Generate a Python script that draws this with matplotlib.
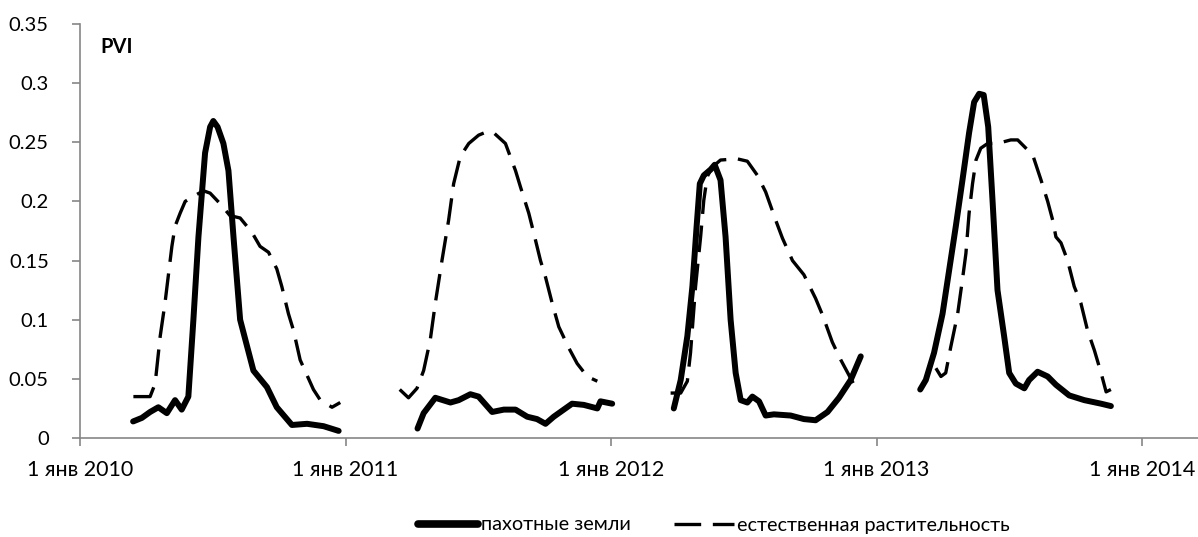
import matplotlib
matplotlib.use('Agg')
import matplotlib.pyplot as plt
import numpy as np

plt.rcParams['font.family'] = ['Lato', 'Open Sans', 'DejaVu Sans']

# Time in decimal years, PVI values (one segment per season)
crop_x = [
    [2010.200, 2010.233, 2010.264, 2010.295, 2010.327, 2010.358, 2010.383, 2010.408, 2010.427,
     2010.446, 2010.471, 2010.490, 2010.502, 2010.518, 2010.540, 2010.559, 2010.578, 2010.603,
     2010.653, 2010.704, 2010.741, 2010.798, 2010.855, 2010.917, 2010.974],
    [2011.271, 2011.294, 2011.338, 2011.395, 2011.426, 2011.470, 2011.501, 2011.552, 2011.596,
     2011.640, 2011.684, 2011.721, 2011.753, 2011.784, 2011.853, 2011.897, 2011.948, 2011.960,
     2012.004],
    [2012.236, 2012.262, 2012.287, 2012.306, 2012.322, 2012.334, 2012.349, 2012.375, 2012.390,
     2012.412, 2012.431, 2012.450, 2012.469, 2012.488, 2012.513, 2012.532, 2012.557, 2012.582,
     2012.613, 2012.676, 2012.726, 2012.770, 2012.815, 2012.858, 2012.902, 2012.940],
    [2013.164, 2013.185, 2013.216, 2013.248, 2013.273, 2013.298, 2013.323, 2013.348, 2013.367,
     2013.386, 2013.403, 2013.420, 2013.437, 2013.455, 2013.480, 2013.499, 2013.524, 2013.556,
     2013.574, 2013.606, 2013.644, 2013.675, 2013.725, 2013.782, 2013.845, 2013.882],
]
crop_pvi = [
    [0.014, 0.017, 0.022, 0.026, 0.021, 0.032, 0.024, 0.035, 0.100, 0.170, 0.241, 0.263, 0.268,
     0.263, 0.249, 0.226, 0.170, 0.100, 0.057, 0.043, 0.026, 0.011, 0.012, 0.010, 0.006],
    [0.008, 0.021, 0.034, 0.030, 0.032, 0.037, 0.035, 0.022, 0.024, 0.024, 0.018, 0.016, 0.012,
     0.018, 0.029, 0.028, 0.025, 0.031, 0.029],
    [0.025, 0.049, 0.086, 0.128, 0.179, 0.215, 0.222, 0.227, 0.231, 0.218, 0.170, 0.100, 0.055,
     0.032, 0.030, 0.035, 0.031, 0.019, 0.020, 0.019, 0.016, 0.015, 0.022, 0.034, 0.049, 0.069],
    [0.041, 0.049, 0.072, 0.105, 0.142, 0.179, 0.218, 0.258, 0.284, 0.291, 0.290, 0.263, 0.198,
     0.125, 0.086, 0.055, 0.046, 0.042, 0.049, 0.056, 0.052, 0.045, 0.036, 0.032, 0.029, 0.027],
]

nat_x = [
    [2010.201, 2010.264, 2010.283, 2010.302, 2010.320, 2010.346, 2010.358, 2010.377, 2010.396,
     2010.433, 2010.465, 2010.490, 2010.528, 2010.565, 2010.603, 2010.647, 2010.678, 2010.710,
     2010.741, 2010.760, 2010.785, 2010.804, 2010.829, 2010.855, 2010.879, 2010.905, 2010.949,
     2010.980],
    [2011.204, 2011.237, 2011.269, 2011.294, 2011.319, 2011.338, 2011.363, 2011.388, 2011.407,
     2011.432, 2011.464, 2011.501, 2011.533, 2011.558, 2011.602, 2011.640, 2011.659, 2011.690,
     2011.709, 2011.734, 2011.753, 2011.778, 2011.803, 2011.841, 2011.872, 2011.910, 2011.948],
    [2012.224, 2012.262, 2012.287, 2012.299, 2012.318, 2012.337, 2012.349, 2012.362, 2012.381,
     2012.412, 2012.475, 2012.513, 2012.551, 2012.582, 2012.620, 2012.645, 2012.683, 2012.726,
     2012.770, 2012.796, 2012.833, 2012.865, 2012.915],
    [2013.223, 2013.242, 2013.260, 2013.279, 2013.305, 2013.323, 2013.336, 2013.348, 2013.361,
     2013.374, 2013.392, 2013.418, 2013.455, 2013.505, 2013.531, 2013.562, 2013.588, 2013.619,
     2013.644, 2013.663, 2013.675, 2013.694, 2013.719, 2013.744, 2013.769, 2013.794, 2013.820,
     2013.845, 2013.864, 2013.882],
]
nat_pvi = [
    [0.035, 0.035, 0.046, 0.086, 0.114, 0.162, 0.179, 0.190, 0.200, 0.205, 0.209, 0.207, 0.198,
     0.188, 0.186, 0.174, 0.162, 0.157, 0.143, 0.128, 0.105, 0.091, 0.066, 0.053, 0.041, 0.032,
     0.026, 0.030],
    [0.041, 0.034, 0.042, 0.057, 0.083, 0.114, 0.150, 0.184, 0.215, 0.238, 0.249, 0.256, 0.259,
     0.258, 0.249, 0.226, 0.212, 0.190, 0.173, 0.150, 0.136, 0.114, 0.094, 0.076, 0.063, 0.052,
     0.048],
    [0.038, 0.038, 0.048, 0.072, 0.128, 0.170, 0.201, 0.221, 0.229, 0.235, 0.236, 0.234, 0.222,
     0.208, 0.184, 0.169, 0.150, 0.138, 0.118, 0.104, 0.081, 0.066, 0.045],
    [0.059, 0.052, 0.055, 0.077, 0.105, 0.134, 0.156, 0.190, 0.215, 0.235, 0.245, 0.249, 0.249,
     0.252, 0.252, 0.245, 0.239, 0.218, 0.200, 0.184, 0.170, 0.165, 0.150, 0.128, 0.114, 0.091,
     0.074, 0.055, 0.039, 0.041],
]

years = [2010, 2011, 2012, 2013, 2014]
year_labels = ['1 янв 2010', '1 янв 2011', '1 янв 2012', '1 янв 2013', '1 янв 2014']
y_ticks = [0, 0.05, 0.1, 0.15, 0.2, 0.25, 0.3, 0.35]
y_labels = ['0', '0.05', '0.1', '0.15', '0.2', '0.25', '0.3', '0.35']

fig = plt.figure(figsize=(11.98, 5.37), dpi=100)
ax = fig.add_axes([80 / 1198, 1 - 438 / 537, 1 - 80 / 1198, (438 - 24) / 537])

for i in range(len(crop_x)):
    ax.plot(crop_x[i], crop_pvi[i], color='black', linewidth=4.3, solid_joinstyle='round',
            solid_capstyle='round', label='пахотные земли' if i == 0 else None)
for i in range(len(nat_x)):
    ax.plot(nat_x[i], nat_pvi[i], color='black', linewidth=2.4, linestyle=(0, (8, 3.5)),
            label='естественная растительность' if i == 0 else None)

ax.set_xlim(2010, 2014.21)
ax.set_ylim(0, 0.35)
ax.set_xticks(years)
ax.set_xticklabels(year_labels, fontsize=15.5)
ax.set_yticks(y_ticks)
ax.set_yticklabels(y_labels, fontsize=14.5)

for s in ['top', 'right']:
    ax.spines[s].set_visible(False)
for s in ['left', 'bottom']:
    ax.spines[s].set_color('#868686')
    ax.spines[s].set_linewidth(1.2)
ax.tick_params(axis='both', color='#868686', length=5.5, width=1.2)
ax.tick_params(axis='x', pad=10)
ax.tick_params(axis='y', pad=17)

ax.text(0.018, 0.944, 'PVI', transform=ax.transAxes, fontsize=14.5, fontweight='bold',
        va='center', ha='left')

leg = fig.legend(loc='center', bbox_to_anchor=(0.596, 1 - 525 / 537), ncol=2, frameon=False,
                 fontsize=14.3, handlelength=3.0, handletextpad=0.15, columnspacing=2.2)
leg.get_lines()[0].set_linewidth(5.5)

fig.savefig('out.png', dpi=100)
